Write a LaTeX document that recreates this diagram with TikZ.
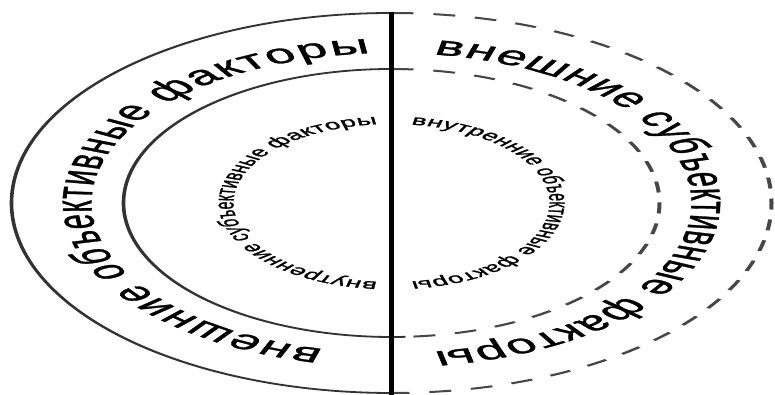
\documentclass[tikz,border=0pt]{standalone}
\usepackage{fontspec}
\newfontfamily\fkfont[FakeBold=1.1]{Liberation Sans}
\usetikzlibrary{decorations.text}
\newcommand\fkbig{\fkfont\fontsize{27}{29}\selectfont}
\newcommand\fksmall{\fkfont\fontsize{14}{16}\selectfont}
\tikzset{
  fk canvas/.style={
    x=1pt,
    y=1pt,
    line cap=butt
  },
  fk solid/.style={
    draw=black!80,
    line width=1.8pt
  },
  fk dashed/.style={
    draw=black!72,
    line width=2pt,
    dash pattern=on 11pt off 10pt
  },
  fk divider/.style={
    draw=black,
    line width=5.5pt
  },
  fk outer text/.style={
    decorate,
    decoration={text along path, text align=fit to path, text={|\fkbig|#1}}
  },
  fk inner text/.style={
    decorate,
    decoration={text along path, text align=fit to path, text={|\fksmall|#1}}
  }
}

\begin{document}
\begin{tikzpicture}[fk canvas]
  \useasboundingbox (0,0) rectangle (775,395);
  % rings are circles, stretched sideways afterwards
  \begin{scope}[transform canvas={xscale=2}]
    \coordinate (c) at (195.75,192);
    % left half, solid
    \draw[fk solid] (c) ++(88:190) arc[start angle=88, end angle=272, radius=190];
    \draw[fk solid] (c) ++(87:134) arc[start angle=87, end angle=273, radius=134];
    % right half, dashed
    \draw[fk dashed] (c) ++(90:190) arc[start angle=90, end angle=-90, radius=190];
    \draw[fk dashed] (c) ++(90:134) arc[start angle=90, end angle=-90, radius=134];
    % labels, clockwise
    \path[fk outer text={внешние объективные факторы}]
      (c) ++(-103:150) arc[start angle=-103, end angle=-266, radius=150];
    \path[fk outer text={внешние субъективные факторы}]
      (c) ++(82:150) arc[start angle=82, end angle=-82, radius=150];
    \path[fk inner text={внутренние субъективные факторы}]
      (c) ++(-95:79) arc[start angle=-95, end angle=-265, radius=79];
    \path[fk inner text={внутренние объективные факторы}]
      (c) ++(83:79) arc[start angle=83, end angle=-83, radius=79];
  \end{scope}
  \coordinate (top) at (391.5,383);
  \coordinate (bottom) at (391.5,0);
  \draw[fk divider] (top) -- (bottom);
\end{tikzpicture}
\end{document}
